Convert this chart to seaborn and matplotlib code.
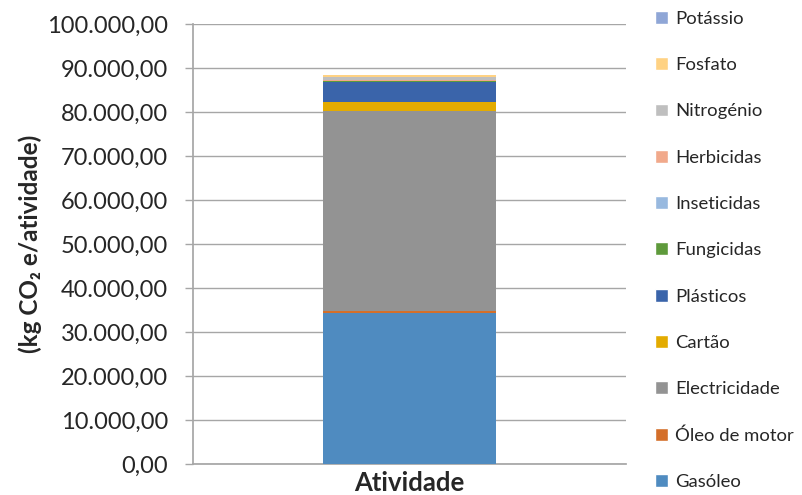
import matplotlib
matplotlib.use("Agg")
import matplotlib.pyplot as plt
import matplotlib.ticker as mticker
from matplotlib.patches import Patch
import seaborn as sns
import pandas as pd
import numpy as np

# categories from bottom to top of the stack
categories = ['Gasóleo', 'Óleo de motor', 'Electricidade', 'Cartão', 'Plásticos',
              'Fungicidas', 'Inseticidas', 'Herbicidas', 'Nitrogénio', 'Fosfato', 'Potássio']
values = [34430, 250, 45570, 2050, 4550, 120, 60, 330, 550, 430, 180]
colors = ['#4F8BC0', '#D46F2A', '#939393', '#E3AB00', '#3A64AA', '#5E9A3B',
          '#98B9DF', '#F1A98B', '#BFBFBF', '#FFD283', '#8FA6D6']
x_label = 'Atividade'
y_ticks = np.arange(0, 100001, 10000)

sns.set_theme(style="white")
plt.rcParams['font.family'] = ['Lato', 'DejaVu Sans']

fig = plt.figure(figsize=(8.02, 4.95), dpi=100)
ax = fig.add_axes([0.2406, 0.0626, 0.5399, 0.8889])

# stacked bar: draw cumulative totals, tallest first
cum = np.cumsum(values)
for i in range(len(categories) - 1, -1, -1):
    df = pd.DataFrame({'x': [x_label], 'y': [cum[i]]})
    sns.barplot(data=df, x='x', y='y', color=colors[i], width=0.4,
                saturation=1, linewidth=0, edgecolor='none', ax=ax, zorder=3)

ax.set_ylim(0, 100000)
ax.set_xlim(-0.5, 0.5)
ax.set_yticks(y_ticks)
fmt = lambda v, p: f"{v:,.2f}".replace(',', 'X').replace('.', ',').replace('X', '.')
ax.yaxis.set_major_formatter(mticker.FuncFormatter(fmt))
ax.grid(axis='y', color='#A6A6A6', linewidth=1, zorder=0)
ax.set_axisbelow(True)

for s in ['top', 'right']:
    ax.spines[s].set_visible(False)
ax.spines['left'].set_color('#A6A6A6')
ax.spines['bottom'].set_color('#A6A6A6')
ax.tick_params(axis='y', length=6, width=1, color='#A6A6A6', pad=12,
               labelsize=17, left=True)
ax.tick_params(axis='x', length=0, labelsize=18.5, pad=5)
ax.set_xticks([0])
ax.set_xticklabels([x_label], fontweight='bold')
ax.set_xlabel('')
ax.set_ylabel('(kg CO\u2082 e/atividade)', fontsize=17.5, fontweight='bold', labelpad=3.5)

handles = [Patch(facecolor=colors[i], label=categories[i]) for i in range(len(categories))][::-1]
fig.legend(handles=handles, loc='upper left', bbox_to_anchor=(0.807, 0.993),
           frameon=False, fontsize=13.3, handlelength=0.7, handleheight=0.7,
           handletextpad=0.4, labelspacing=1.64, borderaxespad=0)

fig.savefig('out.png', dpi=100)
